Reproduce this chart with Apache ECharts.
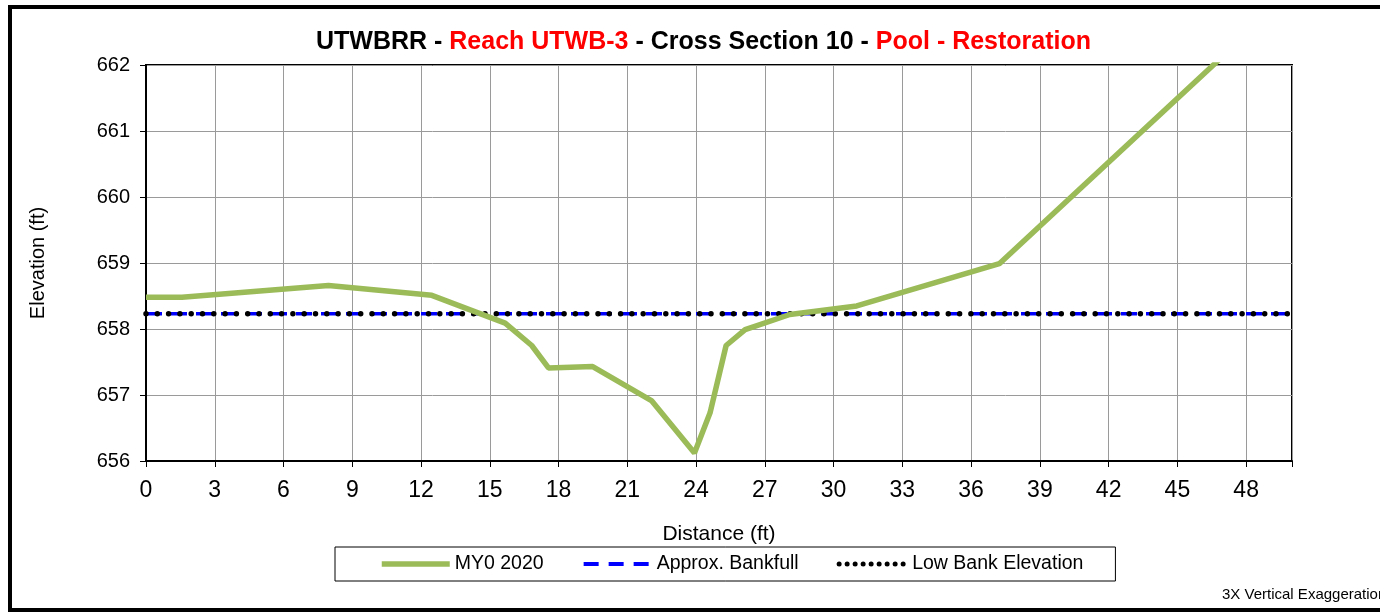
<!DOCTYPE html>
<html>
<head>
<meta charset="utf-8">
<title>UTWBRR Cross Section 10</title>
<script src="https://cdn.jsdelivr.net/npm/echarts@6/dist/echarts.min.js"></script>
<style>
  html, body { margin: 0; padding: 0; background: #fff; }
  #main { width: 1380px; height: 613px; }
</style>
</head>
<body>
<div id="main"></div>
<script>
// surveyed cross section (ft)
var distance  = [0, 1.57, 7.96, 12.47, 15.67, 16.83, 17.56, 19.49, 22.07, 23.93, 24.61, 25.31, 26.14, 28.09, 31.01, 37.23, 47.5];
var elevation = [658.48, 658.48, 658.66, 658.51, 658.09, 657.75, 657.41, 657.43, 656.91, 656.12, 656.73, 657.75, 657.99, 658.22, 658.35, 658.99, 662.3];

// horizontal reference lines
var refDistance = [0, 50];
var bankfullElev = [658.23, 658.23];
var lowBankElev = [658.23, 658.23];

var xTicks = [0, 3, 6, 9, 12, 15, 18, 21, 24, 27, 30, 33, 36, 39, 42, 45, 48];
var yTicks = [656, 657, 658, 659, 660, 661, 662];

var FONT = '"Liberation Sans", Arial, sans-serif';

function pairs(xs, ys) {
	var out = [];
	for (var i = 0; i < xs.length; i++) out.push([xs[i], ys[i]]);
	return out;
}

var myChart = echarts.init(document.getElementById('main'));

var option = {
	backgroundColor: '#fff',
	animation: false,
	textStyle: { fontFamily: FONT },
	title: {
		left: 311,
		top: 25,
		text: '{b|UTWBRR - }{r|Reach UTWB-3}{b| - Cross Section 10 - }{r|Pool - Restoration}',
		textStyle: {
			rich: {
				b: { color: '#000', fontWeight: 'bold', fontSize: 25, fontFamily: FONT },
				r: { color: '#ff0000', fontWeight: 'bold', fontSize: 25, fontFamily: FONT }
			}
		}
	},
	grid: {
		left: 146,
		right: 88,
		top: 65,
		bottom: 152,
		show: true,
		borderColor: '#000',
		borderWidth: 2
	},
	xAxis: {
		type: 'value',
		min: 0,
		max: 50,
		interval: 3,
		name: 'Distance (ft)',
		nameLocation: 'middle',
		nameGap: 63,
		nameTextStyle: { color: '#000', fontSize: 21, fontFamily: FONT },
		axisLine: { lineStyle: { color: '#000', width: 2 } },
		axisTick: { show: true, length: 6, lineStyle: { color: '#000', width: 1 } },
		axisLabel: {
			color: '#000', fontSize: 23, margin: 18, fontFamily: FONT,
			formatter: function (v) { return xTicks.indexOf(v) >= 0 ? String(v) : ''; }
		},
		splitLine: { show: true, lineStyle: { color: '#9a9a9a', width: 1 } }
	},
	yAxis: {
		type: 'value',
		min: 656,
		max: 662,
		interval: 1,
		name: 'Elevation (ft)',
		nameLocation: 'middle',
		nameGap: 98,
		nameTextStyle: { color: '#000', fontSize: 20, fontFamily: FONT },
		axisLine: { show: true, lineStyle: { color: '#000', width: 2 } },
		axisTick: { show: true, length: 6, lineStyle: { color: '#000', width: 1 } },
		axisLabel: {
			color: '#000', fontSize: 20, margin: 16, fontFamily: FONT,
			formatter: function (v) { return yTicks.indexOf(v) >= 0 ? String(v) : ''; }
		},
		splitLine: { show: true, lineStyle: { color: '#9a9a9a', width: 1 } }
	},
	legend: {
		left: 335,
		top: 547,
		orient: 'horizontal',
		itemWidth: 68,
		itemHeight: 14,
		itemGap: 38,
		padding: [7, 32, 7, 44],
		borderColor: '#000',
		borderWidth: 1,
		itemStyle: { opacity: 0 },
		textStyle: { color: '#000', fontSize: 19.5, fontFamily: FONT },
		data: [
			{ name: 'MY0 2020', lineStyle: { width: 5.5, color: '#9bbb59', opacity: 1 } },
			{ name: 'Approx. Bankfull', lineStyle: { width: 4, color: '#0000ff', type: [15, 10], opacity: 1 } },
			{ name: 'Low Bank Elevation', lineStyle: { width: 5, color: '#000', type: [0, 8], cap: 'round', opacity: 1 } }
		]
	},
	graphic: [
		{
			type: 'rect',
			shape: { x: 10, y: 7, width: 1420, height: 603 },
			style: { fill: 'none', stroke: '#000', lineWidth: 4 },
			silent: true
		},
		{
			type: 'text',
			left: 1222,
			top: 587,
			style: { text: '3X Vertical Exaggeration', fill: '#000', fontSize: 15, fontFamily: FONT },
			silent: true
		}
	],
	series: [
		{
			name: 'Approx. Bankfull',
			type: 'line',
			symbol: 'none',
			data: pairs(refDistance, bankfullElev),
			itemStyle: { color: '#0000ff' },
			lineStyle: { color: '#0000ff', width: 3.5, type: [16, 9] },
			z: 3
		},
		{
			name: 'Low Bank Elevation',
			type: 'line',
			symbol: 'none',
			data: pairs(refDistance, lowBankElev),
			itemStyle: { color: '#000' },
			lineStyle: { color: '#000', width: 5.5, type: [0, 11.3], cap: 'round' },
			z: 4
		},
		{
			name: 'MY0 2020',
			type: 'line',
			symbol: 'none',
			clip: true,
			data: pairs(distance, elevation),
			itemStyle: { color: '#9bbb59' },
			lineStyle: { color: '#9bbb59', width: 5.5 },
			z: 5
		}
	]
};

myChart.setOption(option);
</script>
</body>
</html>
